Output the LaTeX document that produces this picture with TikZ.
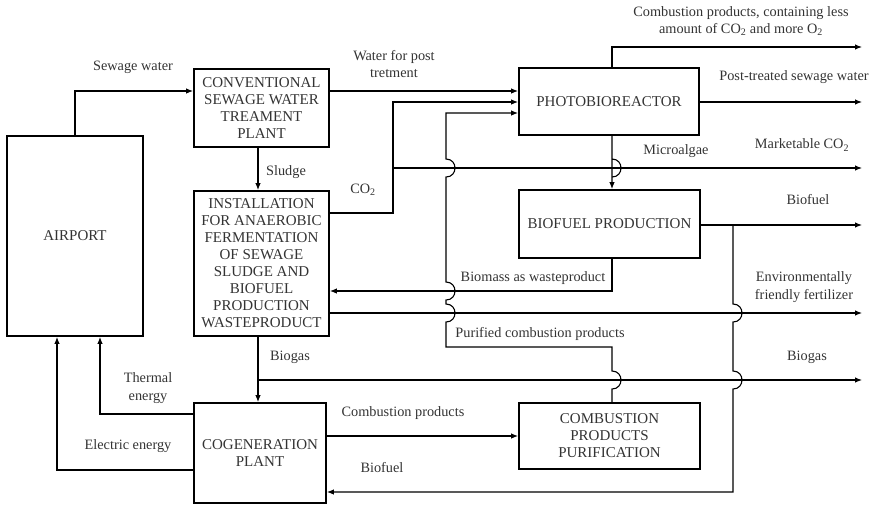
\documentclass[tikz,border=0pt]{standalone}
\usepackage{fontspec}
\setmainfont{Liberation Serif}
\usetikzlibrary{arrows.meta}
\begin{document}
\begin{tikzpicture}[x=1pt,y=-1pt,
  box/.style={draw=black,line width=1.8pt,inner sep=0pt,align=center,text=black!80,
    font=\fontsize{15}{17}\selectfont},
  lbl/.style={inner sep=0pt,align=center,text=black!80,font=\fontsize{14.3}{17.5}\selectfont},
  con/.style={draw=black,line width=1.1pt},
  arr/.style={con,-{Latex[length=7pt,width=5.5pt]}}]
\useasboundingbox (0,0) rectangle (873,507);
% boxes
\node[box,minimum width=136pt,minimum height=200pt] (air) at (75,236) {AIRPORT};
\node[box,minimum width=135pt,minimum height=78pt] (cs) at (261.5,108) {CONVENTIONAL\\SEWAGE WATER\\TREAMENT\\PLANT};
\node[box,minimum width=135pt,minimum height=145pt] (inst) at (261.5,263.5) {INSTALLATION\\FOR ANAEROBIC\\FERMENTATION\\OF SEWAGE\\SLUDGE AND\\BIOFUEL\\PRODUCTION\\WASTEPRODUCT};
\node[box,minimum width=132pt,minimum height=100pt] (cog) at (260,453) {COGENERATION\\PLANT};
\node[box,minimum width=180pt,minimum height=67pt] (pbr) at (609,101.5) {PHOTOBIOREACTOR};
\node[box,minimum width=181pt,minimum height=68pt] (bp) at (609.5,224) {BIOFUEL PRODUCTION};
\node[box,minimum width=181pt,minimum height=66pt] (cpp) at (609.5,436) {COMBUSTION\\PRODUCTS\\PURIFICATION};
% free ends and branch points
\coordinate (eTop) at (862,47);
\coordinate (ePost) at (862,102);
\coordinate (eCO2) at (862,168);
\coordinate (eFuel) at (862,225);
\coordinate (eFert) at (862,313);
\coordinate (eGas) at (862,380);
\coordinate (jGas) at (258,380);
\coordinate (jFuel) at (733,225);
\coordinate (jCO2) at (393,168);
% connectors
\draw[arr] (air.north) |- (cs.west |- 0,91);
\draw[arr] (cs.south -| 258,0) -- (inst.north -| 258,0);
\draw[arr] (inst.south -| 258,0) -- (cog.north -| 258,0);
\draw[arr] (jGas) -- (eGas);
\draw[arr] (cog.west |- 0,414) -| (air.south -| 100,0);
\draw[arr] (cog.west |- 0,470) -| (air.south -| 57,0);
\draw[arr] (cog.east |- 0,436) -- (cpp.west);
\draw[arr] (jFuel) -- (733,304)
  .. controls (745,304) and (745,322) .. (733,322) -- (733,371)
  .. controls (745,371) and (745,389) .. (733,389) -- (733,492) -- (cog.east |- 0,492);
\draw[arr] (bp.east |- 0,225) -- (eFuel);
\draw[arr] (cpp.north -| 612,0) -- (612,389)
  .. controls (624,389) and (624,371) .. (612,371) -- (612,347) -- (446,347) -- (446,322)
  .. controls (458,322) and (458,304) .. (446,304) -- (446,300)
  .. controls (458,300) and (458,282) .. (446,282) -- (446,177)
  .. controls (458,177) and (458,159) .. (446,159) -- (446,113) -- (pbr.west |- 0,113);
\draw[arr] (inst.east |- 0,213) -| (393,102) -- (pbr.west |- 0,102);
\draw[arr] (jCO2) -- (eCO2);
\draw[arr] (cs.east |- 0,91) -- (pbr.west |- 0,91);
\draw[arr] (pbr.north -| 612,0) |- (eTop);
\draw[arr] (pbr.east |- 0,102) -- (ePost);
\draw[arr] (pbr.south -| 612,0) -- (612,177)
  .. controls (624,177) and (624,159) .. (612,159) -- (bp.north -| 612,0);
\draw[arr] (bp.south -| 612,0) |- (inst.east |- 0,291);
\draw[arr] (inst.east |- 0,313) -- (eFert);
% labels
\node[lbl] (lSew) at (133,67) {Sewage water};
\node[lbl] (lWat) at (394,64) {Water for post\\tretment};
\node[lbl] (lSlu) at (286,172) {Sludge};
\node[lbl] (lCO2) at (363,190) {CO\textsubscript{2}};
\node[lbl] (lTop) at (741,21) {Combustion products, containing less\\amount of CO\textsubscript{2} and more O\textsubscript{2}};
\node[lbl] (lPost) at (794,77) {Post-treated sewage water};
\node[lbl] (lMkt) at (802,145) {Marketable CO\textsubscript{2}};
\node[lbl] (lMic) at (676,151) {Microalgae};
\node[lbl] (lFuel) at (808,200) {Biofuel};
\node[lbl] (lBio) at (533,278) {Biomass as wasteproduct};
\node[lbl] (lFert) at (804,287) {Environmentally\\friendly fertilizer};
\node[lbl] (lPur) at (540,334) {Purified combustion products};
\node[lbl] (lGasR) at (807,357) {Biogas};
\node[lbl] (lGas) at (290,357) {Biogas};
\node[lbl] (lThe) at (148,388) {Thermal\\energy};
\node[lbl] (lEle) at (128,446) {Electric energy};
\node[lbl] (lCom) at (403,413) {Combustion products};
\node[lbl] (lFuelB) at (382,468) {Biofuel};
\end{tikzpicture}
\end{document}
